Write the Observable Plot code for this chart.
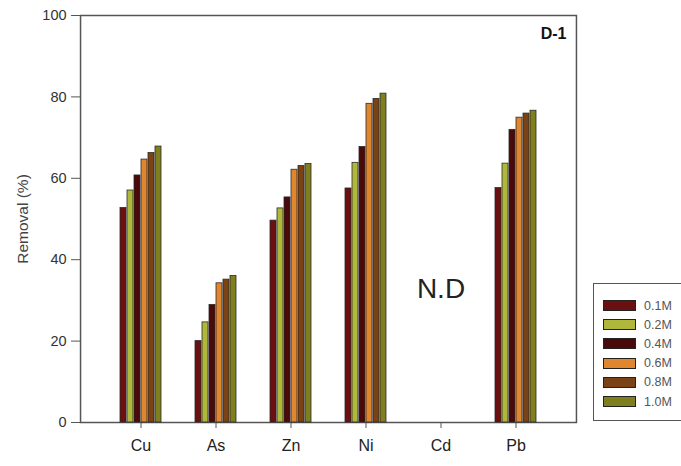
<!DOCTYPE html>
<html>
<head>
<meta charset="utf-8">
<script src="https://cdn.jsdelivr.net/npm/d3@7"></script>
<script src="https://cdn.jsdelivr.net/npm/@observablehq/plot@0.6"></script>
<style>
  html, body { margin: 0; padding: 0; background: #fff; overflow: hidden; }
  #wrap { position: relative; width: 681px; height: 466px; font-family: "Liberation Sans", Arial, sans-serif; }
  #legend { position: absolute; left: 593px; top: 283px; width: 100px; height: 138px; border: 1px solid #555; box-sizing: border-box; padding-top: 12px; }
  .item { display: flex; align-items: center; height: 19.2px; padding-left: 9px; }
  .sw { width: 31px; height: 9px; border: 1px solid #222; margin-right: 8px; }
  .lab { font-size: 12.5px; color: #555; }
  svg g[aria-label="y-axis label"] { font-size: 15.5px; fill: #444; }
</style>
</head>
<body>
<div id="wrap"></div>
<script>
const metals = ["Cu", "As", "Zn", "Ni", "Cd", "Pb"];
const concentrations = ["0.1M", "0.2M", "0.4M", "0.6M", "0.8M", "1.0M"];
const colors = ["#6a1010", "#b0b83c", "#4a0a0a", "#e0862e", "#7a4215", "#7f7f1e"];
// Removal (%) per metal, by concentration (Cd not detected)
const cuValues = [52.7, 57.0, 60.7, 64.6, 66.2, 67.8];
const asValues = [20.0, 24.6, 28.9, 34.2, 35.1, 36.0];
const znValues = [49.6, 52.6, 55.3, 62.1, 63.0, 63.5];
const niValues = [57.5, 63.8, 67.7, 78.3, 79.5, 80.8];
const cdValues = [];
const pbValues = [57.6, 63.6, 71.9, 74.9, 75.9, 76.6];
const yTicks = [0, 20, 40, 60, 80, 100];
const ndLabel = [{metal: "Cd", text: "N.D"}];
const panelLabel = [{metal: "Pb", text: "D-1"}];

const seriesByMetal = {Cu: cuValues, As: asValues, Zn: znValues, Ni: niValues, Cd: cdValues, Pb: pbValues};
const data = [];
for (const m of metals) {
  seriesByMetal[m].forEach((v, i) => data.push({metal: m, conc: concentrations[i], value: v}));
}

const W = 681, H = 466, mL = 77, mR = 103, mT = 15, mB = 44;
const fxOptions = {domain: metals, paddingInner: 0.4, paddingOuter: 0.5};
// facet scale alone, to anchor the y axis and frame on the outer plot area rather than on the facets
const fxScale = Plot.scale({fx: {...fxOptions, range: [mL, W - mR]}});
const firstFacetLeft = fxScale.apply(metals[0]);
const lastFacetRight = fxScale.apply(metals[metals.length - 1]) + fxScale.bandwidth;
const axisShift = mL - firstFacetLeft;          // negative
const rightShift = (W - mR) - lastFacetRight;   // positive

const plot = Plot.plot({
  width: W,
  height: H,
  marginLeft: mL,
  marginRight: mR,
  marginTop: mT,
  marginBottom: mB,
  style: {fontFamily: "Liberation Sans, Arial, sans-serif", fontSize: "14px", color: "#333", background: "#fff"},
  fx: fxOptions,
  x: {domain: concentrations, paddingInner: 0.1, paddingOuter: 0.02, axis: null},
  y: {domain: [0, 100]},
  color: {domain: concentrations, range: colors},
  marks: [
    Plot.frame({facet: "super", stroke: "#555", strokeWidth: 1.5, insetLeft: axisShift, insetRight: -rightShift}),
    Plot.axisY({ticks: yTicks, tickSize: 9, tickPadding: 5, fontSize: 14.5, fill: "#333", stroke: "#555", dx: axisShift,
                label: "Removal (%)", labelAnchor: "center", labelArrow: "none", labelOffset: 102}),
    Plot.axisFx({anchor: "bottom", tickSize: 6, tickPadding: 11, fontSize: 16, fill: "#222", stroke: "#555", label: null}),
    Plot.barY(data, {fx: "metal", x: "conc", y: "value", fill: "conc", stroke: "#2a2a2a", strokeWidth: 0.8}),
    Plot.text(ndLabel, {fx: "metal", text: "text", frameAnchor: "middle", dy: 70, fontSize: 28, fill: "#222"}),
    Plot.text(panelLabel, {fx: "metal", text: "text", frameAnchor: "top-right", lineAnchor: "top", dx: rightShift - 10, dy: 12, fontSize: 16, fontWeight: "bold", fill: "#111"})
  ]
});

const wrap = document.getElementById("wrap");
wrap.appendChild(plot);

const legend = document.createElement("div");
legend.id = "legend";
concentrations.forEach((c, i) => {
  const item = document.createElement("div");
  item.className = "item";
  const sw = document.createElement("div");
  sw.className = "sw";
  sw.style.background = colors[i];
  const lab = document.createElement("span");
  lab.className = "lab";
  lab.textContent = c;
  item.appendChild(sw); item.appendChild(lab);
  legend.appendChild(item);
});
wrap.appendChild(legend);
</script>
</body>
</html>
